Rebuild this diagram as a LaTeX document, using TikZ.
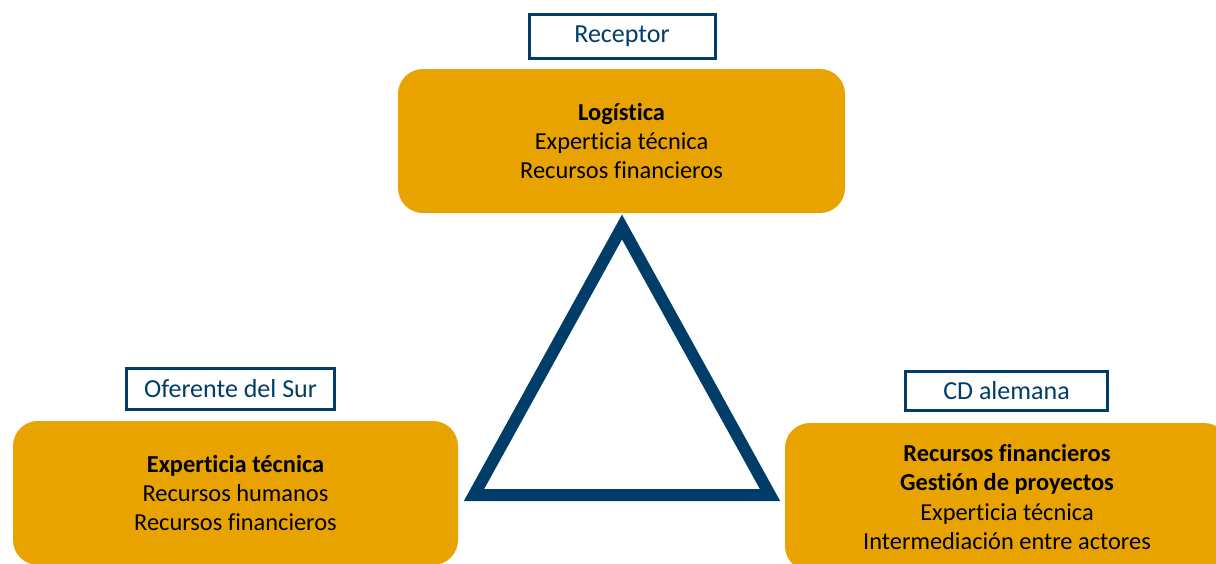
\documentclass[tikz,border=0pt]{standalone}
\usepackage{fontspec}
\setmainfont{Carlito}[Ligatures={NoCommon}]
\usepackage{tikz}
\usetikzlibrary{calc}
\definecolor{navy}{RGB}{0,62,105}
\definecolor{gold}{RGB}{232,163,0}
\tikzset{
    role/.style={draw=navy,line width=1.5pt,text=navy,fill=white,inner sep=0pt,font=\fontsize{13}{15}\selectfont},
    task/.style={fill=gold,rounded corners=12.5pt,align=center,inner sep=0pt,font=\fontsize{12.2}{14.6}\selectfont},
    link/.style={draw=navy,line width=6pt,line join=miter,miter limit=10}
}
\begin{document}
\begin{tikzpicture}[x=0.5pt,y=-0.5pt]
\useasboundingbox(0,0)rectangle(1216,563);
\clip(0,0)rectangle(1216,563);
\node[task,minimum width=223.5pt,minimum height=72pt](receptor) at(621.5,141){\textbf{Logística}\\Experticia técnica\\Recursos financieros};
\node[task,minimum width=222.5pt,minimum height=72pt](sur) at(235.5,493){\textbf{Experticia técnica}\\Recursos humanos\\Recursos financieros};
\node[task,minimum width=222pt,minimum height=74pt](alemana) at(1007,497){\textbf{Recursos financieros}\\\textbf{Gestión de proyectos}\\Experticia técnica\\Intermediación entre actores};
\node[role,minimum width=93pt,minimum height=22pt](lreceptor) at(622,36.5){Receptor};
\node[role,minimum width=104pt,minimum height=20.5pt](lsur) at(230.5,389){Oferente del Sur};
\node[role,minimum width=101pt,minimum height=19.5pt](lalemana) at(1006.5,391){CD alemana};
\coordinate(apex) at(622,227);
\coordinate(left) at(474,495);
\coordinate(right) at(770,495);
\draw[link](apex)--(right)--(left)--cycle;
\end{tikzpicture}
\end{document}
